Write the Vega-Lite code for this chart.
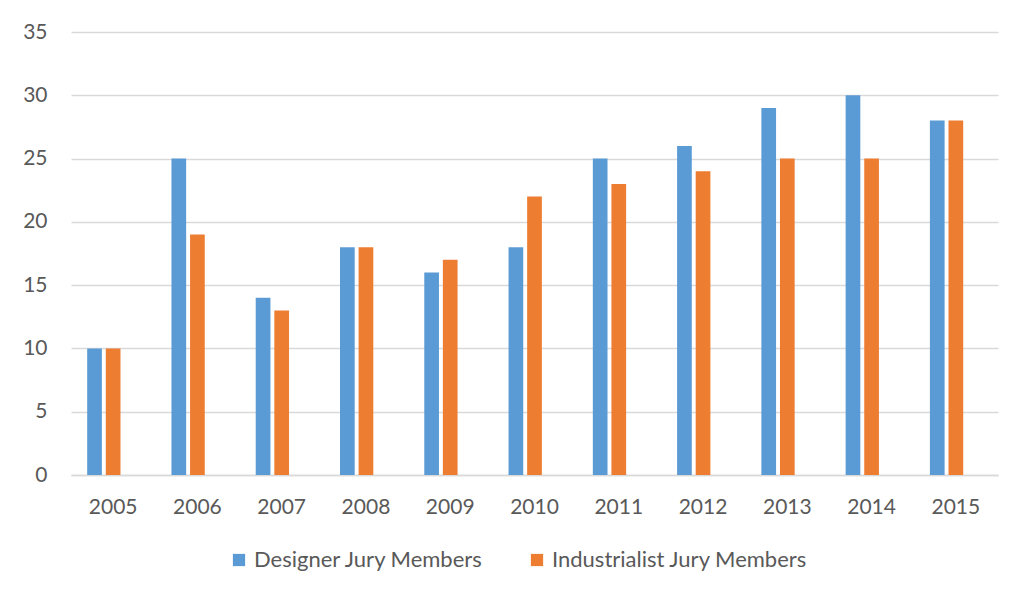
{
  "$schema": "https://vega.github.io/schema/vega-lite/v6.json",
  "autosize": {"type": "none"},
  "width": 927,
  "height": 443,
  "padding": {"left": 71, "top": 32, "right": 18, "bottom": 118},
  "background": "white",
  "data": {
    "values": [
      {"year": "2005", "series": "Designer Jury Members", "value": 10},
      {"year": "2005", "series": "Industrialist Jury Members", "value": 10},
      {"year": "2006", "series": "Designer Jury Members", "value": 25},
      {"year": "2006", "series": "Industrialist Jury Members", "value": 19},
      {"year": "2007", "series": "Designer Jury Members", "value": 14},
      {"year": "2007", "series": "Industrialist Jury Members", "value": 13},
      {"year": "2008", "series": "Designer Jury Members", "value": 18},
      {"year": "2008", "series": "Industrialist Jury Members", "value": 18},
      {"year": "2009", "series": "Designer Jury Members", "value": 16},
      {"year": "2009", "series": "Industrialist Jury Members", "value": 17},
      {"year": "2010", "series": "Designer Jury Members", "value": 18},
      {"year": "2010", "series": "Industrialist Jury Members", "value": 22},
      {"year": "2011", "series": "Designer Jury Members", "value": 25},
      {"year": "2011", "series": "Industrialist Jury Members", "value": 23},
      {"year": "2012", "series": "Designer Jury Members", "value": 26},
      {"year": "2012", "series": "Industrialist Jury Members", "value": 24},
      {"year": "2013", "series": "Designer Jury Members", "value": 29},
      {"year": "2013", "series": "Industrialist Jury Members", "value": 25},
      {"year": "2014", "series": "Designer Jury Members", "value": 30},
      {"year": "2014", "series": "Industrialist Jury Members", "value": 25},
      {"year": "2015", "series": "Designer Jury Members", "value": 28},
      {"year": "2015", "series": "Industrialist Jury Members", "value": 28}
    ]
  },
  "mark": {"type": "bar"},
  "encoding": {
    "x": {
      "field": "year",
      "type": "nominal",
      "scale": {"paddingInner": 0.384, "paddingOuter": 0.192},
      "axis": {
        "title": null,
        "labelAngle": 0,
        "labelFont": "Lato",
        "labelFontSize": 21,
        "labelColor": "#595959",
        "labelPadding": 21,
        "ticks": false,
        "domainColor": "#d9d9d9",
        "domainWidth": 1.5
      }
    },
    "xOffset": {
      "field": "series",
      "type": "nominal",
      "scale": {
        "domain": ["Designer Jury Members", "Industrialist Jury Members", "(none)"],
        "paddingInner": 0.21,
        "paddingOuter": 0
      }
    },
    "y": {
      "field": "value",
      "type": "quantitative",
      "scale": {"domain": [0, 35], "nice": false},
      "axis": {
        "title": null,
        "values": [0, 5, 10, 15, 20, 25, 30, 35],
        "labelFont": "Lato",
        "labelFontSize": 21,
        "labelColor": "#595959",
        "labelPadding": 24,
        "ticks": false,
        "domain": false,
        "gridColor": "#d9d9d9",
        "gridWidth": 1.5
      }
    },
    "color": {
      "field": "series",
      "type": "nominal",
      "scale": {
        "domain": ["Designer Jury Members", "Industrialist Jury Members"],
        "range": ["#5b9bd5", "#ed7d31"]
      },
      "legend": {
        "title": null,
        "orient": "none",
        "direction": "horizontal",
        "legendX": 157,
        "legendY": 517,
        "symbolType": "square",
        "symbolSize": 150,
        "symbolStrokeWidth": 0,
        "labelFont": "Lato",
        "labelFontSize": 22,
        "labelLimit": 0,
        "labelColor": "#595959",
        "labelOffset": 4,
        "columnPadding": 42
      }
    }
  },
  "config": {"view": {"stroke": null}}
}
